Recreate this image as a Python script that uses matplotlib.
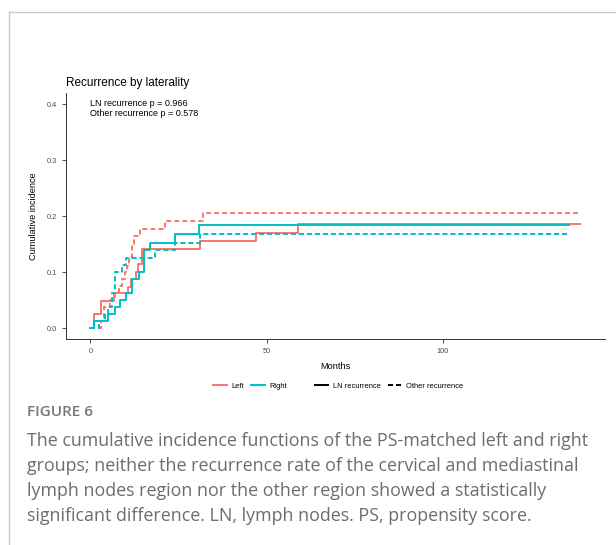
import matplotlib.pyplot as plt
from matplotlib.lines import Line2D

# step curves (months, cumulative incidence)
left_ln_t = [0, 1.0, 2.9, 6.8, 10.8, 11.4, 12.9, 13.6, 14.7, 31.0, 47.0, 59.0, 139.0]
left_ln_v = [0, 0.025, 0.049, 0.062, 0.074, 0.088, 0.100, 0.114, 0.141, 0.155, 0.170, 0.187, 0.187]

right_ln_t = [0, 1.0, 5.0, 6.9, 8.5, 10.1, 11.8, 13.7, 15.1, 16.8, 24.0, 30.9, 135.9]
right_ln_v = [0, 0.012, 0.025, 0.037, 0.050, 0.062, 0.087, 0.100, 0.140, 0.153, 0.168, 0.185, 0.185]

left_oth_t = [0, 2.9, 3.8, 5.5, 7.0, 8.0, 9.0, 9.9, 10.5, 11.0, 11.8, 12.5, 14.2, 21.2, 31.9, 139.0]
left_oth_v = [0, 0.012, 0.037, 0.050, 0.062, 0.075, 0.087, 0.100, 0.112, 0.128, 0.150, 0.165, 0.178, 0.191, 0.206, 0.206]

right_oth_t = [0, 2.5, 4.0, 5.0, 6.1, 6.9, 9.1, 10.2, 18.3, 24.1, 31.0, 135.6]
right_oth_v = [0, 0.012, 0.025, 0.037, 0.062, 0.100, 0.113, 0.125, 0.140, 0.152, 0.169, 0.169]

groups = ["Left", "Right"]
types = ["LN recurrence", "Other recurrence"]
xticks = [0, 50, 100]
yticks = [0.0, 0.1, 0.2, 0.3, 0.4]

red = "#F8766D"
cyan = "#00BFC4"
dash = (0, (2.6, 1.5))

plt.rcParams["font.family"] = ["Liberation Sans", "DejaVu Sans"]
fig = plt.figure(figsize=(6.16, 5.45), dpi=100)
ax = fig.add_axes([0.107, 0.3774, 0.875, 0.4514])

ax.step(left_ln_t, left_ln_v, where="post", color=red, lw=1.4)
ax.step(right_ln_t, right_ln_v, where="post", color=cyan, lw=1.4)
ax.step(left_oth_t, left_oth_v, where="post", color=red, lw=1.4, ls=dash)
ax.step(right_oth_t, right_oth_v, where="post", color=cyan, lw=1.4, ls=dash)

ax.set_xlim(-6.95, 145.95)
ax.set_ylim(-0.02, 0.42)
ax.set_xticks(xticks)
ax.set_yticks(yticks)
ax.set_yticklabels(["%.1f" % v for v in yticks])
ax.tick_params(labelsize=5.3, colors="#4d4d4d", length=3, width=0.6)
ax.tick_params(axis="both", color="#333333")
for s in ["top", "right"]:
    ax.spines[s].set_visible(False)
for s in ["left", "bottom"]:
    ax.spines[s].set_linewidth(0.7)
    ax.spines[s].set_color("#333333")

ax.set_xlabel("Months", fontsize=6.6, labelpad=5)
ax.set_ylabel("Cumulative incidence", fontsize=6.6, labelpad=6)
ax.set_title("Recurrence by laterality", fontsize=8.5, loc="left", x=-0.0, pad=5)

ax.text(0, 0.41, "LN recurrence p = 0.966\nOther recurrence p = 0.578",
        fontsize=6.5, va="top", ha="left", linespacing=1.2)

# legends
h1 = [Line2D([], [], color=red, lw=1.4), Line2D([], [], color=cyan, lw=1.4)]
h2 = [Line2D([], [], color="black", lw=1.4), Line2D([], [], color="black", lw=1.4, ls=dash)]
fig.legend(h1, groups, loc="center", bbox_to_anchor=(250 / 616, 1 - 386 / 545), ncol=2,
           frameon=False, fontsize=5.4, handlelength=1.8, columnspacing=1.0, handletextpad=0.6)
fig.legend(h2, types, loc="center", bbox_to_anchor=(389 / 616, 1 - 386 / 545), ncol=2,
           frameon=False, fontsize=5.4, handlelength=1.8, columnspacing=1.0, handletextpad=0.6)

# caption and frame
fig.add_artist(Line2D([9 / 616, 1], [1 - 12 / 545, 1 - 12 / 545], color="#cccccc", lw=1))
fig.add_artist(Line2D([9 / 616, 9 / 616], [0, 1 - 12 / 545], color="#cccccc", lw=1))
fig.text(27 / 616, 1 - 412 / 545, "FIGURE 6", fontsize=11, color="#777777", weight="semibold",
         family=["Open Sans", "DejaVu Sans"], va="center")
caption = ("The cumulative incidence functions of the PS-matched left and right\n"
           "groups; neither the recurrence rate of the cervical and mediastinal\n"
           "lymph nodes region nor the other region showed a statistically\n"
           "significant difference. LN, lymph nodes. PS, propensity score.")
fig.text(27 / 616, 1 - 432 / 545, caption, fontsize=12.9, color="#6d6d6d",
         family=["Open Sans", "DejaVu Sans"], va="top", linespacing=1.5)

fig.savefig("out.png", dpi=100)
